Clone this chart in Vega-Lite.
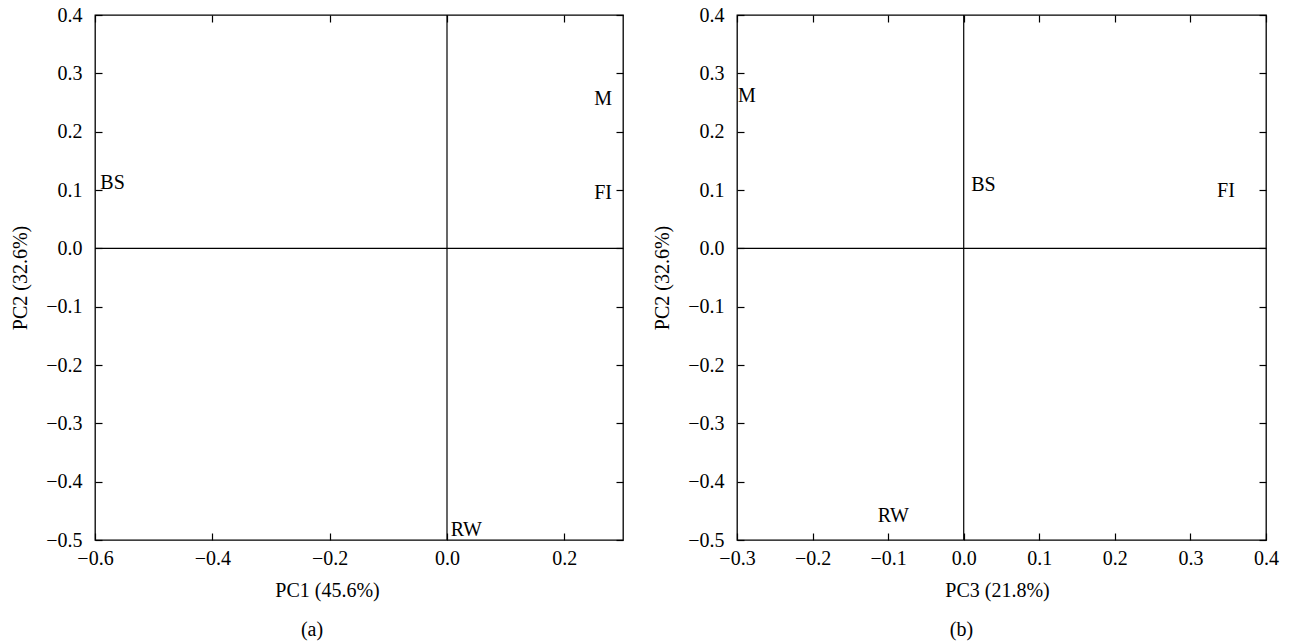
{
  "$schema": "https://vega.github.io/schema/vega-lite/v6.json",
  "background": "white",
  "padding": {"left": 10, "top": 4, "right": 5, "bottom": 5},
  "spacing": 27,
  "datasets": {
    "a": [
      {"label": "BS", "pc1": -0.57, "pc2": 0.112},
      {"label": "M", "pc1": 0.266, "pc2": 0.256},
      {"label": "FI", "pc1": 0.266, "pc2": 0.095},
      {"label": "RW", "pc1": 0.033, "pc2": -0.483}
    ],
    "b": [
      {"label": "M", "pc3": -0.287, "pc2": 0.261},
      {"label": "BS", "pc3": 0.026, "pc2": 0.109},
      {"label": "FI", "pc3": 0.347, "pc2": 0.098},
      {"label": "RW", "pc3": -0.093, "pc2": -0.459}
    ]
  },
  "hconcat": [
    {
      "width": 528,
      "height": 525,
      "title": {"text": "(a)", "orient": "bottom", "dx": -47, "offset": 20},
      "resolve": {"axis": {"x": "independent", "y": "independent"}},
      "layer": [
        {
          "data": {"values": [{}]},
          "mark": {"type": "rule", "color": "black", "strokeWidth": 1.2},
          "encoding": {"x": {"datum": 0, "type": "quantitative", "scale": {"domain": [-0.6, 0.3], "nice": false, "zero": false}, "axis": null}}
        },
        {
          "data": {"values": [{}]},
          "mark": {"type": "rule", "color": "black", "strokeWidth": 1.2},
          "encoding": {"y": {"datum": 0, "type": "quantitative", "scale": {"domain": [-0.5, 0.4], "nice": false, "zero": false}, "axis": null}}
        },
        {
          "data": {"name": "a"},
          "mark": {"type": "text", "color": "black"},
          "encoding": {
            "x": {"field": "pc1", "type": "quantitative", "scale": {"domain": [-0.6, 0.3], "nice": false, "zero": false},
              "axis": {"orient": "bottom", "values": [-0.6, -0.4, -0.2, 0, 0.2], "format": ".1f", "title": "PC1 (45.6%)", "titleX": 232}},
            "y": {"field": "pc2", "type": "quantitative", "scale": {"domain": [-0.5, 0.4], "nice": false, "zero": false},
              "axis": {"orient": "left", "values": [-0.5, -0.4, -0.3, -0.2, -0.1, 0, 0.1, 0.2, 0.3, 0.4], "format": ".1f", "title": "PC2 (32.6%)"}},
            "text": {"field": "label"}
          }
        },
        {
          "data": {"name": "a"},
          "mark": {"type": "text", "opacity": 0},
          "encoding": {
            "x": {"field": "pc1", "type": "quantitative", "scale": {"domain": [-0.6, 0.3], "nice": false, "zero": false},
              "axis": {"orient": "top", "values": [-0.6, -0.4, -0.2, 0, 0.2], "labels": false, "title": null}},
            "y": {"field": "pc2", "type": "quantitative", "scale": {"domain": [-0.5, 0.4], "nice": false, "zero": false},
              "axis": {"orient": "right", "values": [-0.5, -0.4, -0.3, -0.2, -0.1, 0, 0.1, 0.2, 0.3, 0.4], "labels": false, "title": null}},
            "text": {"field": "label"}
          }
        }
      ]
    },
    {
      "width": 529,
      "height": 525,
      "title": {"text": "(b)", "orient": "bottom", "dx": -40, "offset": 20},
      "resolve": {"axis": {"x": "independent", "y": "independent"}},
      "layer": [
        {
          "data": {"values": [{}]},
          "mark": {"type": "rule", "color": "black", "strokeWidth": 1.2},
          "encoding": {"x": {"datum": 0, "type": "quantitative", "scale": {"domain": [-0.3, 0.4], "nice": false, "zero": false}, "axis": null}}
        },
        {
          "data": {"values": [{}]},
          "mark": {"type": "rule", "color": "black", "strokeWidth": 1.2},
          "encoding": {"y": {"datum": 0, "type": "quantitative", "scale": {"domain": [-0.5, 0.4], "nice": false, "zero": false}, "axis": null}}
        },
        {
          "data": {"name": "b"},
          "mark": {"type": "text", "color": "black"},
          "encoding": {
            "x": {"field": "pc3", "type": "quantitative", "scale": {"domain": [-0.3, 0.4], "nice": false, "zero": false},
              "axis": {"orient": "bottom", "values": [-0.3, -0.2, -0.1, 0, 0.1, 0.2, 0.3, 0.4], "format": ".1f", "title": "PC3 (21.8%)", "titleX": 260}},
            "y": {"field": "pc2", "type": "quantitative", "scale": {"domain": [-0.5, 0.4], "nice": false, "zero": false},
              "axis": {"orient": "left", "values": [-0.5, -0.4, -0.3, -0.2, -0.1, 0, 0.1, 0.2, 0.3, 0.4], "format": ".1f", "title": "PC2 (32.6%)"}},
            "text": {"field": "label"}
          }
        },
        {
          "data": {"name": "b"},
          "mark": {"type": "text", "opacity": 0},
          "encoding": {
            "x": {"field": "pc3", "type": "quantitative", "scale": {"domain": [-0.3, 0.4], "nice": false, "zero": false},
              "axis": {"orient": "top", "values": [-0.3, -0.2, -0.1, 0, 0.1, 0.2, 0.3, 0.4], "labels": false, "title": null}},
            "y": {"field": "pc2", "type": "quantitative", "scale": {"domain": [-0.5, 0.4], "nice": false, "zero": false},
              "axis": {"orient": "right", "values": [-0.5, -0.4, -0.3, -0.2, -0.1, 0, 0.1, 0.2, 0.3, 0.4], "labels": false, "title": null}},
            "text": {"field": "label"}
          }
        }
      ]
    }
  ],
  "config": {
    "font": "Liberation Serif",
    "view": {"stroke": "black", "strokeWidth": 1.3},
    "axis": {
      "domain": false,
      "grid": false,
      "ticks": true,
      "tickColor": "black",
      "tickSize": -7,
      "tickWidth": 1.2,
      "labelColor": "black",
      "labelFont": "Liberation Serif",
      "labelFontSize": 20,
      "labelFlush": false,
      "labelOverlap": false,
      "titleFont": "Liberation Serif",
      "titleFontSize": 20,
      "titleFontWeight": "normal",
      "titleColor": "black"
    },
    "axisX": {"labelPadding": 15, "titlePadding": 12},
    "axisY": {"labelPadding": 20, "titlePadding": 15},
    "text": {"font": "Liberation Serif", "fontSize": 20},
    "title": {"font": "Liberation Serif", "fontSize": 20, "fontWeight": "normal", "color": "black"}
  }
}
